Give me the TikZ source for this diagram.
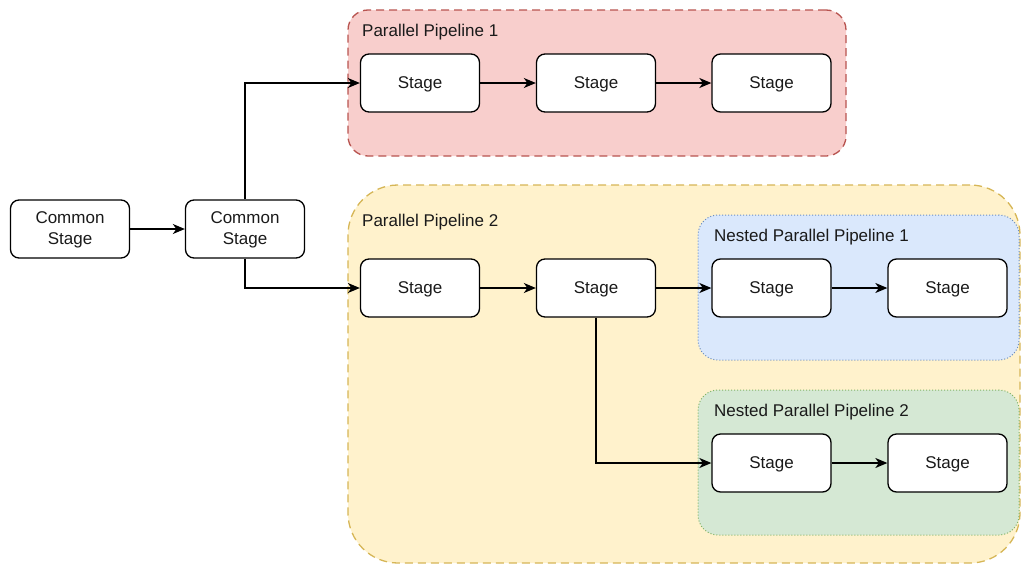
\documentclass[tikz,border=0pt]{standalone}
\usepackage{fontspec}
\setmainfont{Liberation Sans}
\usetikzlibrary{arrows.meta}
\definecolor{redfill}{HTML}{F8CECC}\definecolor{redline}{HTML}{B85450}
\definecolor{yelfill}{HTML}{FFF2CC}\definecolor{yelline}{HTML}{D6B656}
\definecolor{blufill}{HTML}{DAE8FC}\definecolor{bluline}{HTML}{6C8EBF}
\definecolor{grnfill}{HTML}{D5E8D4}\definecolor{grnline}{HTML}{82B366}
\definecolor{ink}{HTML}{1A1A1A}
\begin{document}
\begin{tikzpicture}[x=1pt,y=-1pt,
  font=\fontsize{17}{21.5}\selectfont,
  stagebox/.style={draw=black,fill=white,line width=1.3pt,rounded corners=8.5pt,
    minimum width=119pt,minimum height=58pt,inner sep=0pt,align=center,text=ink},
  stagetext/.style={inner sep=0pt,align=center,text=ink},
  group/.style={line width=1.3pt,inner sep=0pt,dash pattern=on 8pt off 5pt},
  nested/.style={line width=1pt,inner sep=0pt,dash pattern=on 1pt off 2pt},
  grouplabel/.style={anchor=west,inner sep=0pt,text=ink},
  arr/.style={line width=1.4pt,draw=black,-{Stealth[length=12pt,width=10pt,inset=3.5pt]}}]
\useasboundingbox (0,0) rectangle (1022,565);

% pipeline containers
\node[group,draw=redline,fill=redfill,rounded corners=20pt,minimum width=498pt,minimum height=146pt] (pp1) at (597,83) {};
\node[group,draw=yelline,fill=yelfill,rounded corners=50pt,minimum width=672pt,minimum height=378pt] (pp2) at (684,374) {};
\node[nested,draw=bluline,fill=blufill,rounded corners=20pt,minimum width=321pt,minimum height=145pt] (np1) at (858.5,287.5) {};
\node[nested,draw=grnline,fill=grnfill,rounded corners=20pt,minimum width=321pt,minimum height=145pt] (np2) at (858.5,462.5) {};

\node[grouplabel] (l1) at (362,32.5) {Parallel Pipeline 1};
\node[grouplabel] (l2) at (362,222.5) {Parallel Pipeline 2};
\node[grouplabel] (l3) at (714,237.5) {Nested Parallel Pipeline 1};
\node[grouplabel] (l4) at (714,412.5) {Nested Parallel Pipeline 2};

% stages (text nudged slightly below the box centre)
\foreach \n/\x/\y/\t in {cs1/70/229/{Common\\Stage},cs2/245/229/{Common\\Stage},
    p1a/420/83/Stage,p1b/596/83/Stage,p1c/771.5/83/Stage,
    p2a/420/288/Stage,p2b/596/288/Stage,
    n1a/771.5/288/Stage,n1b/947.5/288/Stage,
    n2a/771.5/463/Stage,n2b/947.5/463/Stage}{
  \node[stagebox] (\n) at (\x,\y) {};
  \node[stagetext] (\n-t) at ([yshift=-1pt]\n.center) {\t};
}

% connectors
\draw[arr] (cs1) -- (cs2);
\draw[arr] (cs2.north) |- (p1a.west);
\draw[arr] (cs2.south) |- (p2a.west);
\draw[arr] (p1a) -- (p1b);
\draw[arr] (p1b) -- (p1c);
\draw[arr] (p2a) -- (p2b);
\draw[arr] (p2b) -- (n1a);
\draw[arr] (n1a) -- (n1b);
\draw[arr] (p2b.south) |- (n2a.west);
\draw[arr] (n2a) -- (n2b);
\end{tikzpicture}
\end{document}
